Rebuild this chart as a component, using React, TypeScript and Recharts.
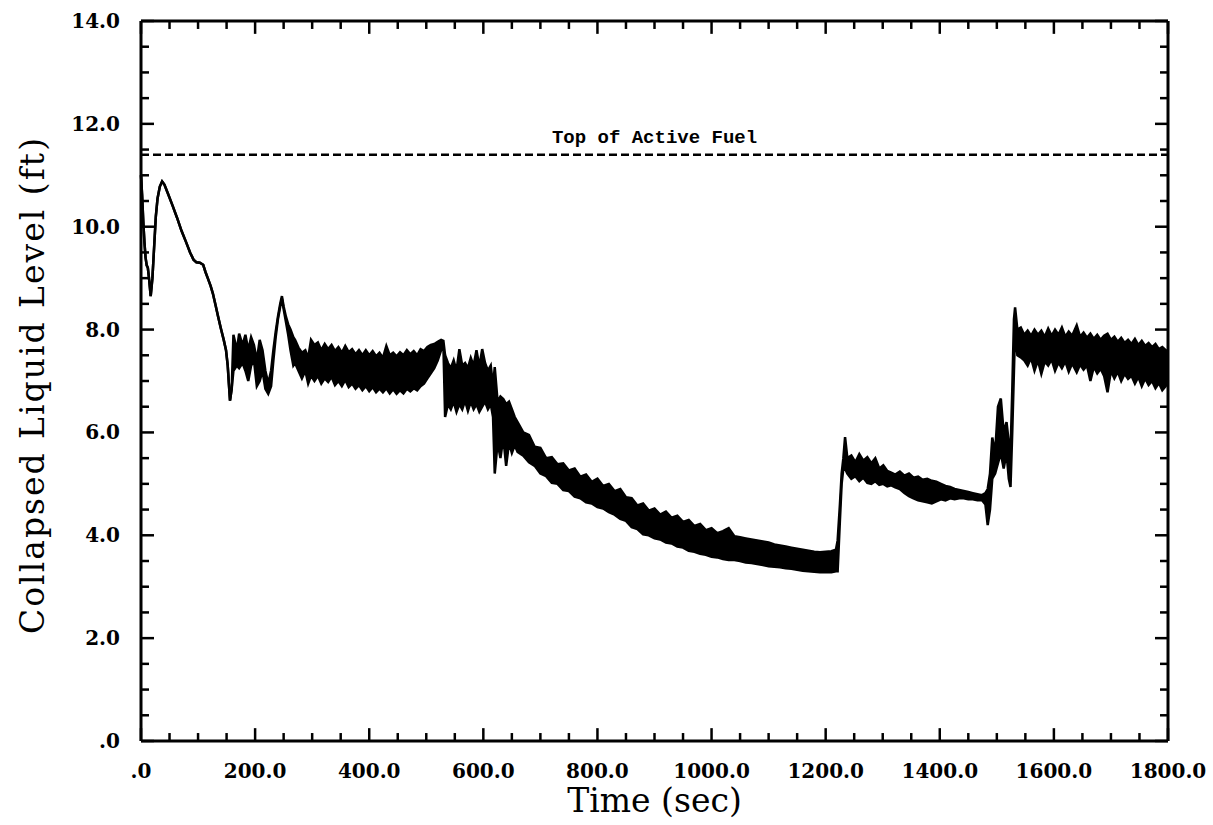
import { Area, ComposedChart, Label, ReferenceLine, XAxis, YAxis } from "recharts";

// time axis of the trace, seconds
const timeSec = [
  0, 2, 4, 6, 8, 10, 12, 14, 17, 20,
  23, 26, 29, 33, 37, 41, 47, 55, 63, 71,
  79, 86, 92, 97, 103, 109, 113, 117, 122, 126,
  131, 135, 140, 145, 149, 152, 154, 156, 159,
  162, 168, 172, 178, 183, 188, 193, 198, 203, 208,
  213, 218, 223, 228, 232, 236, 240, 244, 247, 250,
  254, 258, 262, 267, 270, 276, 282, 288, 293, 298,
  304, 310, 316, 322, 328, 334, 340, 346, 352, 358,
  364, 370, 376, 382, 388, 394, 400, 406, 412, 418,
  424, 430, 436, 442, 448, 454, 460, 466, 472, 478,
  484, 490, 496, 502, 508, 514, 520, 526, 530, 533,
  538, 543, 548, 553, 558, 563, 568, 573, 578, 583,
  588, 593, 598, 603, 608, 613, 617, 620, 625, 630,
  635, 640, 645, 650, 655, 660, 670, 680, 690, 700,
  710, 720, 730, 740, 750, 760, 770, 780, 790, 800,
  810, 820, 830, 840, 850, 860, 870, 880, 890, 900,
  910, 920, 930, 940, 950, 960, 970, 980, 990, 1000,
  1010, 1020, 1030, 1040, 1050, 1060, 1070, 1080, 1090, 1100,
  1110, 1120, 1130, 1140, 1150, 1160, 1170, 1180, 1190, 1200,
  1210, 1218, 1221, 1225, 1228, 1231, 1234, 1238, 1245, 1252,
  1259, 1266, 1273, 1280, 1287, 1294, 1301, 1308, 1315, 1322,
  1330, 1338, 1346, 1354, 1362, 1370, 1378, 1386, 1394, 1402,
  1410, 1418, 1426, 1434, 1442, 1450, 1458, 1466, 1474, 1480,
  1484, 1488, 1492, 1497, 1502, 1507, 1512, 1517, 1521, 1524,
  1527, 1530, 1532, 1536, 1542, 1548, 1554, 1560, 1566, 1572,
  1578, 1584, 1590, 1596, 1602, 1608, 1614, 1620, 1626, 1632,
  1640, 1646, 1652, 1658, 1664, 1670, 1676, 1682, 1688, 1694,
  1700, 1706, 1712, 1718, 1724, 1730, 1736, 1742, 1748, 1754,
  1760, 1766, 1772, 1778, 1784, 1790, 1796, 1800,
];

// upper edge of the oscillating level (ft)
const levelHigh = [
  11.0, 10.6, 10.1, 9.7, 9.4, 9.25, 9.2, 9.0, 8.65, 9.0,
  9.6, 10.2, 10.55, 10.78, 10.88, 10.82, 10.65, 10.42, 10.18, 9.92,
  9.7, 9.5, 9.36, 9.31, 9.3, 9.26, 9.12, 9.0, 8.85, 8.7,
  8.46, 8.26, 8.02, 7.8, 7.6, 7.3, 6.95, 6.62, 6.85,
  7.9, 7.6, 7.92, 7.7, 7.9, 7.6, 7.85, 7.7, 7.4, 7.8,
  7.6, 7.2, 6.95, 7.2, 7.6, 7.95, 8.25, 8.5, 8.65, 8.45,
  8.25, 8.1, 8.0, 7.85, 7.8, 7.65, 7.55, 7.6, 7.45, 7.8,
  7.7, 7.75, 7.6, 7.72, 7.62, 7.7, 7.58, 7.66, 7.55, 7.68,
  7.56, 7.62, 7.52, 7.6, 7.5, 7.6, 7.5, 7.58, 7.48, 7.55,
  7.45, 7.68, 7.5, 7.55, 7.48, 7.56, 7.5, 7.6, 7.52, 7.58,
  7.5, 7.62, 7.58, 7.66, 7.7, 7.72, 7.76, 7.8, 7.78, 7.5,
  7.35, 7.25, 7.4, 7.2, 7.62, 7.3, 7.35, 7.25, 7.45, 7.3,
  7.6, 7.28, 7.62, 7.35, 7.2, 7.3, 6.9, 7.27, 6.6, 6.7,
  6.65, 6.55, 6.6, 6.45, 6.3, 6.2, 6.0, 5.95, 5.72, 5.7,
  5.5, 5.52, 5.38, 5.4, 5.26, 5.3, 5.14, 5.18, 5.04, 5.1,
  4.96, 5.0, 4.86, 4.9, 4.74, 4.72, 4.58, 4.62, 4.48, 4.52,
  4.4, 4.46, 4.34, 4.38, 4.26, 4.3, 4.18, 4.22, 4.1, 4.14,
  4.04, 4.08, 4.14, 3.98, 3.96, 3.94, 3.92, 3.9, 3.88, 3.86,
  3.82, 3.8, 3.78, 3.76, 3.74, 3.72, 3.7, 3.68, 3.67, 3.68,
  3.69, 3.72, 3.9, 4.6, 5.2, 5.5, 5.91, 5.5, 5.55, 5.42,
  5.58, 5.45, 5.52, 5.4, 5.5, 5.3, 5.36, 5.25, 5.22, 5.18,
  5.24, 5.16, 5.2, 5.12, 5.14, 5.08, 5.1, 5.06, 5.04, 5.0,
  4.96, 4.94, 4.9, 4.88, 4.86, 4.84, 4.82, 4.8, 4.78, 4.82,
  4.9, 5.2, 5.9, 5.6, 6.5, 6.66, 6.0, 6.2, 5.8, 5.6,
  6.8, 8.2, 8.43, 8.0, 8.04, 7.9, 7.98, 7.88, 8.0, 7.9,
  7.98, 7.86, 8.02, 7.88, 8.0, 7.9, 8.04, 7.86, 7.96, 7.88,
  8.08, 7.86, 7.94, 7.84, 7.92, 7.82, 7.9, 7.8, 7.88, 7.92,
  7.8, 7.86, 7.76, 7.84, 7.74, 7.8, 7.72, 7.82, 7.7, 7.78,
  7.68, 7.74, 7.66, 7.72, 7.62, 7.66, 7.6, 7.58,
];

// lower edge of the oscillating level (ft); null where the trace is a single line
const levelLow = [
  null, null, null, null, null, null, null, null, null, null,
  null, null, null, null, null, null, null, null, null, null,
  null, null, null, null, null, null, null, null, null, null,
  null, null, null, null, null, null, null, null, null,
  7.2, 7.3, 7.25, 7.35, 7.2, 7.0, 7.3, 7.4, 6.9, 7.0,
  7.2, 6.85, 6.75, 6.9, 7.4, 7.85, 8.2, 8.45, 8.6, 8.4,
  8.15, 7.9, 7.6, 7.3, 7.35, 7.2, 7.05, 7.2, 6.95, 7.1,
  7.0, 7.1, 6.95, 7.05, 6.98, 7.08, 6.92, 7.0, 6.9, 7.02,
  6.88, 6.95, 6.85, 6.92, 6.82, 6.9, 6.8, 6.88, 6.78, 6.85,
  6.78, 6.86, 6.76, 6.84, 6.75, 6.82, 6.76, 6.85, 6.8, 6.86,
  6.82, 6.9, 6.95, 7.05, 7.15, 7.25, 7.4, 7.6, 7.7, 6.3,
  6.55, 6.45, 6.6, 6.4, 6.55, 6.45, 6.62, 6.42, 6.6, 6.45,
  6.55, 6.4, 6.5, 6.6, 6.45, 6.55, 6.3, 5.2, 5.8, 5.5,
  5.9, 5.35, 5.8, 5.6, 5.75, 5.62, 5.55, 5.42, 5.35, 5.2,
  5.15, 5.02, 5.0, 4.88, 4.86, 4.75, 4.72, 4.64, 4.62, 4.55,
  4.52, 4.45, 4.4, 4.32, 4.28, 4.16, 4.12, 4.02, 4.0, 3.94,
  3.92, 3.86, 3.84, 3.78, 3.76, 3.7, 3.68, 3.64, 3.62, 3.58,
  3.57, 3.54, 3.52, 3.52, 3.5, 3.47, 3.46, 3.44, 3.42, 3.4,
  3.39, 3.38, 3.36, 3.35, 3.33, 3.31, 3.3, 3.29, 3.28, 3.28,
  3.28, 3.3, 3.3, 4.3, 5.0, 5.3, 5.3, 5.2, 5.1, 5.15,
  5.05, 5.12, 5.02, 5.0, 5.05, 4.98, 5.0, 4.95, 4.97, 4.93,
  4.9, 4.82, 4.76, 4.72, 4.68, 4.66, 4.64, 4.62, 4.66, 4.7,
  4.68, 4.72, 4.7, 4.72, 4.72, 4.7, 4.7, 4.68, 4.68, 4.6,
  4.2, 4.5, 5.1, 5.2, 5.4, 5.6, 5.3, 5.6, 5.1, 4.94,
  6.0, 7.2, 8.0, 7.5, 7.46, 7.4, 7.3, 7.45, 7.2, 7.4,
  7.14, 7.38, 7.3, 7.42, 7.2, 7.36, 7.25, 7.38, 7.18, 7.34,
  7.17, 7.32, 7.22, 7.3, 7.0, 7.28, 7.15, 7.24, 7.1, 6.78,
  7.2, 7.05, 7.18, 7.0, 7.14, 7.04, 7.1, 6.95, 7.08, 6.9,
  7.05, 6.92, 7.0, 6.86, 6.96, 6.82, 6.9, 7.0,
];

const X_TICKS = [
  0, 50, 100, 150, 200, 250, 300, 350, 400, 450, 500, 550, 600, 650, 700, 750, 800, 850, 900,
  950, 1000, 1050, 1100, 1150, 1200, 1250, 1300, 1350, 1400, 1450, 1500, 1550, 1600, 1650,
  1700, 1750, 1800,
];
const X_MAJOR = [0, 200, 400, 600, 800, 1000, 1200, 1400, 1600, 1800];
const X_LABELS = [".0", "200.0", "400.0", "600.0", "800.0", "1000.0", "1200.0", "1400.0", "1600.0", "1800.0"];

const Y_TICKS = [
  0, 0.5, 1, 1.5, 2, 2.5, 3, 3.5, 4, 4.5, 5, 5.5, 6, 6.5, 7, 7.5, 8, 8.5, 9, 9.5, 10, 10.5,
  11, 11.5, 12, 12.5, 13, 13.5, 14,
];
const Y_MAJOR = [0, 2, 4, 6, 8, 10, 12, 14];
const Y_LABELS = [".0", "2.0", "4.0", "6.0", "8.0", "10.0", "12.0", "14.0"];

const TOP_OF_ACTIVE_FUEL = 11.4;

const X_MAX = 1800;
const Y_MAX = 14;

const data = timeSec.map((t, i) => ({
  t,
  band: [levelLow[i] ?? levelHigh[i], levelHigh[i]],
}));

// inward tick marks on all four sides, lengths given in data units (≈13px major, 8px minor)
const TICK_X_MAJOR = 22.8;
const TICK_X_MINOR = 14;
const TICK_Y_MAJOR = 0.25;
const TICK_Y_MINOR = 0.155;

const tickSegments = [
  ...X_TICKS.flatMap((t) => {
    const len = X_MAJOR.includes(t) ? TICK_Y_MAJOR : TICK_Y_MINOR;
    return [
      [{ x: t, y: 0 }, { x: t, y: len }],
      [{ x: t, y: Y_MAX }, { x: t, y: Y_MAX - len }],
    ];
  }),
  ...Y_TICKS.flatMap((v) => {
    const len = Y_MAJOR.includes(v) ? TICK_X_MAJOR : TICK_X_MINOR;
    return [
      [{ x: 0, y: v }, { x: len, y: v }],
      [{ x: X_MAX, y: v }, { x: X_MAX - len, y: v }],
    ];
  }),
];

const SERIF = "'DejaVu Serif', serif";

function BottomLabel(props: any) {
  const { x, y, payload } = props;
  const k = X_MAJOR.indexOf(payload.value);
  if (k < 0) return <g />;
  return (
    <text x={x} y={y + 37} textAnchor="middle" fontFamily={SERIF} fontWeight="bold" fontSize={20} fill="#000">
      {X_LABELS[k]}
    </text>
  );
}

function LeftLabel(props: any) {
  const { x, y, payload } = props;
  const k = Y_MAJOR.indexOf(payload.value);
  if (k < 0) return <g />;
  return (
    <text x={x - 21} y={y + 7} textAnchor="end" fontFamily={SERIF} fontWeight="bold" fontSize={20} fill="#000">
      {Y_LABELS[k]}
    </text>
  );
}

const frame = { stroke: "#000", strokeWidth: 3 };

export default function App() {
  return (
    <div style={{ position: "absolute", left: 0, top: 0, background: "#fff" }}>
      <ComposedChart width={1213} height={825} data={data} margin={{ top: 20, right: 44, left: 0, bottom: 0 }}>
        <XAxis
          dataKey="t"
          type="number"
          domain={[0, X_MAX]}
          ticks={X_MAJOR}
          interval={0}
          tickSize={0}
          tickMargin={0}
          tickLine={false}
          tick={<BottomLabel />}
          axisLine={frame}
          height={84}
        >
          <Label
            content={({ viewBox }: any) => (
              <text
                x={viewBox.x + viewBox.width / 2}
                y={viewBox.y + 71}
                textAnchor="middle"
                fontFamily={SERIF}
                fontSize={33}
                fill="#000"
              >
                Time (sec)
              </text>
            )}
          />
        </XAxis>
        <XAxis
          xAxisId="top"
          orientation="top"
          type="number"
          domain={[0, X_MAX]}
          tick={false}
          tickLine={false}
          axisLine={frame}
          height={1}
        />
        <YAxis
          type="number"
          domain={[0, Y_MAX]}
          ticks={Y_MAJOR}
          interval={0}
          tickSize={0}
          tickMargin={0}
          tickLine={false}
          tick={<LeftLabel />}
          axisLine={frame}
          width={141}
        >
          <Label
            content={({ viewBox }: any) => {
              const cx = 32;
              const cy = viewBox.y + viewBox.height / 2 + 4;
              return (
                <text
                  x={cx}
                  y={cy}
                  transform={`rotate(-90 ${cx} ${cy})`}
                  textAnchor="middle"
                  dominantBaseline="central"
                  fontFamily={SERIF}
                  fontSize={33}
                  letterSpacing={2}
                  fill="#000"
                >
                  Collapsed Liquid Level (ft)
                </text>
              );
            }}
          />
        </YAxis>
        <YAxis
          yAxisId="right"
          orientation="right"
          type="number"
          domain={[0, Y_MAX]}
          tick={false}
          tickLine={false}
          axisLine={frame}
          width={1}
        />
        {tickSegments.map((seg, i) => (
          <ReferenceLine key={i} segment={seg} stroke="#000" strokeWidth={2.5} ifOverflow="visible" />
        ))}
        <ReferenceLine
          y={TOP_OF_ACTIVE_FUEL}
          stroke="#000"
          strokeWidth={2.5}
          strokeDasharray="8 4"
          label={{
            value: "Top of Active Fuel",
            position: "top",
            offset: 12,
            fill: "#000",
            fontFamily: "'Liberation Mono', monospace",
            fontWeight: "bold",
            fontSize: 19,
          }}
        />
        <Area
          dataKey="band"
          type="linear"
          stroke="#000"
          strokeWidth={2.5}
          fill="#000"
          fillOpacity={1}
          dot={false}
          activeDot={false}
          isAnimationActive={false}
        />
      </ComposedChart>
    </div>
  );
}
